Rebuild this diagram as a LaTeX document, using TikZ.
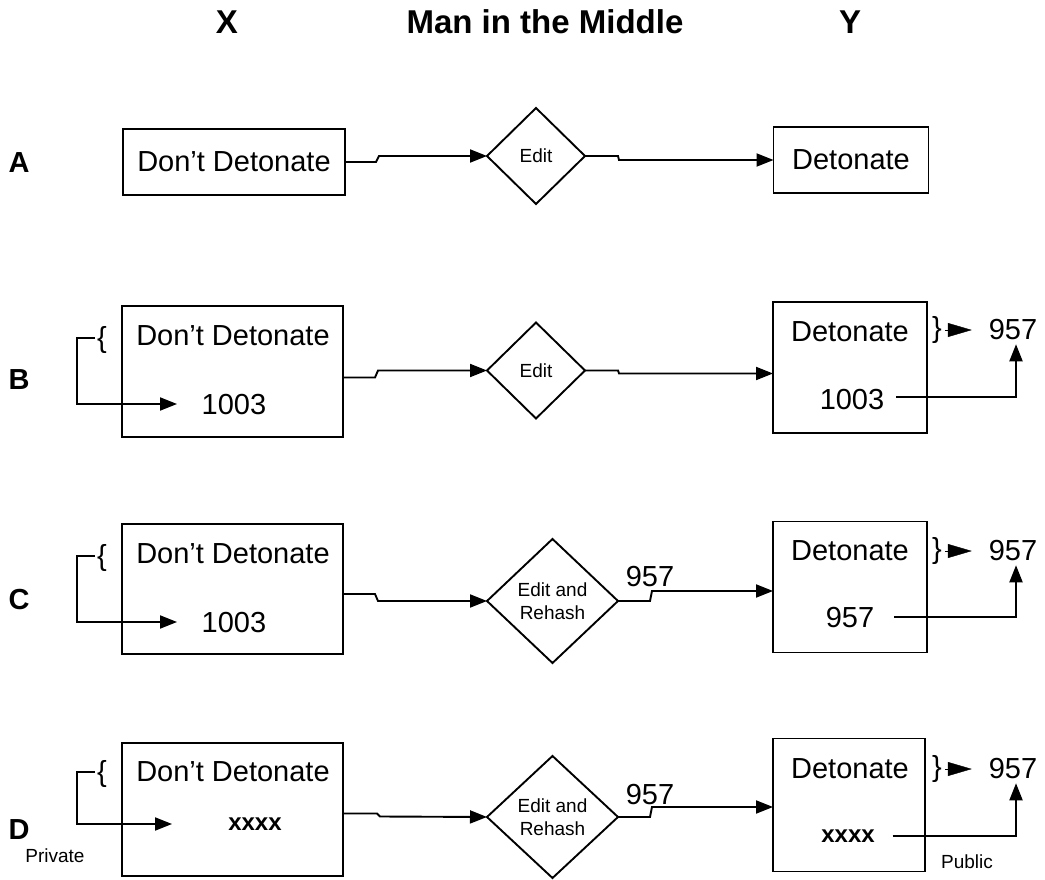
\documentclass[tikz,border=0pt]{standalone}
\usepackage{fontspec}
\setmainfont{Liberation Sans}
\usetikzlibrary{shapes.geometric,arrows.meta,calc}

\begin{document}
\begin{tikzpicture}[x=1pt,y=-1pt,
  every node/.style={inner sep=0pt, outer sep=0pt},
  box/.style={draw, rectangle, line width=1.9pt},
  dia/.style={draw, diamond, line width=1.9pt},
  big/.style={font=\fontsize{29}{34}\selectfont},
  small/.style={font=\fontsize{19}{23}\selectfont, align=center},
  head/.style={font=\fontsize{33}{38}\selectfont\bfseries},
  rowlab/.style={font=\fontsize{29}{32}\selectfont\bfseries},
  hid/.style={font=\fontsize{24}{28}\selectfont\bfseries},
  arr/.style={line width=1.9pt, -{Triangle[length=17pt,width=13pt]}},
  tri/.style={line width=0.4pt, -{Triangle[length=24pt,width=14pt]}},
]
\useasboundingbox (0,0) rectangle (1045,880);

% column headings
\node[head] (hx) at (227,22) {X};
\node[head] (hm) at (545,22) {Man in the Middle};
\node[head] (hy) at (850,22) {Y};

% ---------------- row A ----------------
\node[rowlab] (la) at (19,163) {A};
\node[box, big, minimum width=222, minimum height=66] (a1) at (234,162) {Don't Detonate};
\node[dia, small, minimum width=98, minimum height=96] (a2) at (536,156) {Edit};
\node[box, big, minimum width=155, minimum height=66] (a3) at (851,160) {Detonate};
\draw[arr] (a1.east) -- ++(31,0) -- ++(3,-6) -- (a2.west);
\draw[arr] (a2.east) -- ++(33,0) -- ++(1,4) -- (a3.west);

% ---------------- row B ----------------
\node[rowlab] (lb) at (19,380) {B};
\node[box, minimum width=221, minimum height=131] (b1) at (232.5,371.5) {};
\node[big] (b1t) at (233,336) {Don't Detonate};
\node[big] (b1n) at (234,405) {1003};
\node[big] (b1br) at (102,340) {\{};
\coordinate (b1tip) at (177,404);
\draw[arr] ([xshift=-2pt,yshift=2pt]b1br.west) -- ++(-18,0) |- (b1tip);

\node[dia, small, minimum width=98, minimum height=96] (b2) at (536,370.5) {Edit};
\draw[arr] ($(b1.east)+(0,6)$) -- ++(32,0) -- ++(3,-7) -- (b2.west);

\node[box, minimum width=154, minimum height=131] (b3) at (850,367.5) {};
\draw[arr] (b2.east) -- ++(33,0) -- ++(1,3) -- ($(b3.west)+(0,6)$);
\node[big] (b3t) at (850,332) {Detonate};
\node[big] (b3n) at (852,400) {1003};
\node[big] (b3br) at (937,330) {\}};
\node[big] (b3v) at (1013,330) {957};
\draw[tri] ([xshift=3pt]b3br.east) -- ([xshift=-17pt]b3v.west);
\draw[arr] ([xshift=12pt,yshift=3pt]b3n.east) -| ([xshift=3pt,yshift=-4pt]b3v.south);

% ---------------- row C ----------------
\node[rowlab] (lc) at (19,600) {C};
\node[box, minimum width=221, minimum height=130] (c1) at (232.5,589) {};
\node[big] (c1t) at (233,554) {Don't Detonate};
\node[big] (c1n) at (234,623) {1003};
\node[big] (c1br) at (102,558) {\{};
\coordinate (c1tip) at (177,622);
\draw[arr] ([xshift=-2pt,yshift=2pt]c1br.west) -- ++(-18,0) |- (c1tip);

\node[dia, small, minimum width=131, minimum height=124] (c2) at (552.5,601) {Edit and\\Rehash};
\draw[arr] ($(c1.east)+(0,5)$) -- ++(32,0) -- ++(3,7) -- (c2.west);

\node[box, minimum width=154, minimum height=131] (c3) at (850,587) {};
\draw[arr] (c2.east) -- ++(32,0) -- ++(2,-10) -- ($(c3.west)+(0,4)$);
\node[big] (c2v) at (650,577) {957};
\node[big] (c3t) at (850,551) {Detonate};
\node[big] (c3n) at (850,618) {957};
\node[big] (c3br) at (937,551) {\}};
\node[big] (c3v) at (1013,551) {957};
\draw[tri] ([xshift=3pt]c3br.east) -- ([xshift=-17pt]c3v.west);
\draw[arr] ([xshift=20pt,yshift=1pt]c3n.east) -| ([xshift=3pt,yshift=-4pt]c3v.south);

% ---------------- row D ----------------
\node[rowlab] (ld) at (19,830) {D};
\node[box, minimum width=221, minimum height=133] (d1) at (232.5,809.5) {};
\node[big] (d1t) at (233,772) {Don't Detonate};
\node[hid] (d1n) at (255,824) {xxxx};
\node[big] (d1br) at (102,774) {\{};
\coordinate (d1tip) at (172,824);
\draw[arr] ([xshift=-2pt,yshift=2pt]d1br.west) -- ++(-18,0) |- (d1tip);
\node[small] (priv) at (55,856) {Private};

\node[dia, small, minimum width=131, minimum height=122] (d2) at (552.5,817) {Edit and\\Rehash};
\draw[arr] ($(d1.east)+(0,4)$) -- ++(34,0) -- ++(3,3) -- (d2.west);

\node[box, minimum width=152, minimum height=133] (d3) at (849,805) {};
\draw[arr] (d2.east) -- ++(32,0) -- ++(2,-10) -- ($(d3.west)+(0,2)$);
\node[big] (d2v) at (650,795) {957};
\node[big] (d3t) at (850,769) {Detonate};
\node[hid] (d3n) at (848,836) {xxxx};
\node[big] (d3br) at (937,769) {\}};
\node[big] (d3v) at (1013,769) {957};
\draw[tri] ([xshift=3pt]d3br.east) -- ([xshift=-17pt]d3v.west);
\draw[arr] ([xshift=18pt]d3n.east) -| ([xshift=3pt,yshift=-4pt]d3v.south);
\node[small] (pub) at (967,862) {Public};
\end{tikzpicture}
\end{document}
